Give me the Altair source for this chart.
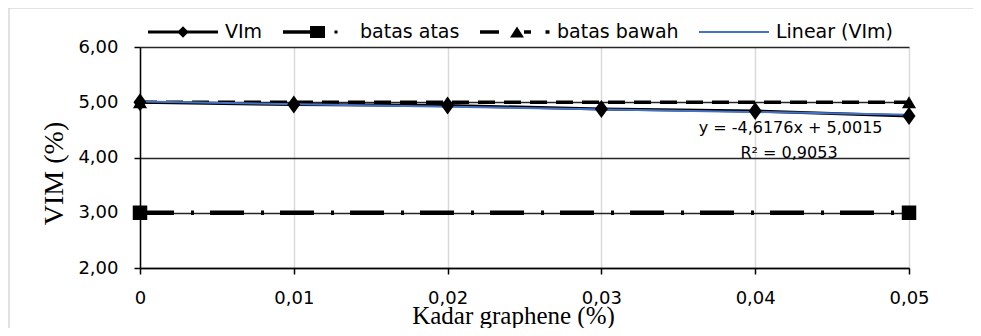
import altair as alt
import pandas as pd

# ---- data ----
kadar = [0, 0.01, 0.02, 0.03, 0.04, 0.05]
vim = [5.00, 4.96, 4.94, 4.88, 4.84, 4.75]
batas_x = [0, 0.05]
batas_atas = [3.0, 3.0]
batas_bawah = [5.0, 5.0]
series_names = ["VIm", "batas atas", "batas bawah", "Linear (VIm)"]
series_colors = ["#000000", "#000000", "#000000", "#4472C4"]
x_ticks = [0, 0.01, 0.02, 0.03, 0.04, 0.05]
y_ticks = [2, 3, 4, 5, 6]
eq_text = "y = -4,6176x + 5,0015"
r2_text = "R² = 0,9053"

vim_df = pd.DataFrame({"x": kadar, "y": vim})
atas_df = pd.DataFrame({"x": batas_x, "y": batas_atas})
bawah_df = pd.DataFrame({"x": batas_x, "y": batas_bawah})
legend_df = pd.DataFrame({"series": series_names})
one_row = pd.DataFrame({"k": [0]})

# legend symbols (line + marker) as custom SVG paths
legend_paths = [
    "M-3.5,-0.15H3.5V0.15H-3.5Z M0,-0.58L0.58,0L0,0.58L-0.58,0Z",
    "M-3.5,-0.17H-0.8V0.17H-3.5Z M-0.8,-0.6H0.7V0.6H-0.8Z M1.65,-0.15H1.95V0.15H1.65Z",
    "M-3.5,-0.17H-1.6V0.17H-3.5Z M0.2,-0.55L0.9,0.55H-0.5Z M0.9,-0.17H1.6V0.17H0.9Z M3.05,-0.18H3.45V0.18H3.05Z",
    "M-3.5,-0.1H3.5V0.1H-3.5Z",
]

W, H = 769, 221
label_expr_x = "datum.value == 0 ? '0' : replace(format(datum.value, '.2f'), '.', ',')"
label_expr_y = "replace(format(datum.value, '.2f'), '.', ',')"

x_scale = alt.Scale(domain=[0, 0.05], nice=False, zero=False)
y_scale = alt.Scale(domain=[2, 6], nice=False, zero=False)

x_axis = alt.Axis(
    values=x_ticks, labelExpr=label_expr_x, title="Kadar graphene (%)",
    grid=True, gridColor="#d9d9d9", gridWidth=1.5,
    domainColor="#000000", domainWidth=1.5, tickColor="#000000", tickWidth=1.5, tickSize=6,
    labelFont="DejaVu Sans", labelFontSize=18, labelColor="#000000", labelPadding=15,
    labelFlush=False,
    titleFont="Liberation Serif", titleFontSize=25, titleFontWeight="normal", titleColor="#000000",
    titleX=373, titleY=55, titleBaseline="alphabetic", titleAlign="center", titleAnchor="start",
)
y_axis = alt.Axis(
    values=y_ticks, labelExpr=label_expr_y, title="VIM (%)",
    grid=True, gridColor="#262626", gridWidth=1.3,
    domainColor="#000000", domainWidth=1.5, tickColor="#000000", tickWidth=1.5, tickSize=6,
    labelFont="DejaVu Sans", labelFontSize=18, labelColor="#000000", labelPadding=16,
    labelFlush=False,
    titleFont="Liberation Serif", titleFontSize=28, titleFontWeight="normal", titleColor="#000000",
    titleX=-86, titleY=126, titleBaseline="middle", titleAlign="center", titleAngle=270,
    titleAnchor="start",
)

X = alt.X("x:Q", scale=x_scale, axis=x_axis)
Y = alt.Y("y:Q", scale=y_scale, axis=y_axis)

frame_top = alt.Chart(one_row).mark_rule(color="#d9d9d9", strokeWidth=1.5).encode(
    x=alt.value(-132), x2=alt.value(841), y=alt.value(-39)
)
frame_left = alt.Chart(one_row).mark_rule(color="#d9d9d9", strokeWidth=1.5).encode(
    x=alt.value(-131), y=alt.value(-39), y2=alt.value(281)
)

atas_line = alt.Chart(atas_df).mark_line(
    color="#000000", strokeWidth=4.5, strokeDash=[34, 17, 3, 16], strokeCap="butt"
).encode(x=X, y=Y)
bawah_line = alt.Chart(bawah_df).mark_line(
    color="#000000", strokeWidth=3.5, strokeDash=[17, 9], strokeCap="butt"
).encode(x=X, y=Y)
vim_line = alt.Chart(vim_df).mark_line(color="#000000", strokeWidth=3).encode(x=X, y=Y)
trend = alt.Chart(vim_df).transform_regression("x", "y", extent=[0, 0.05]).mark_line(
    color="#4472C4", strokeWidth=2
).encode(x=X, y=Y)

vim_pts = alt.Chart(vim_df).mark_point(
    shape="M0,-1.8L1.3,0L0,1.8L-1.3,0Z", size=100, filled=True, color="#000000", opacity=1
).encode(x=X, y=Y)
atas_pts = alt.Chart(atas_df).mark_point(
    shape="square", size=210, filled=True, color="#000000", opacity=1
).encode(x=X, y=Y)
bawah_pts = alt.Chart(bawah_df).mark_point(
    shape="triangle-up", size=200, filled=True, color="#000000", opacity=1
).encode(x=X, y=Y)

leg = dict(title=None, orient="none", legendX=33, legendY=-25,
           direction="horizontal", columns=4, columnPadding=20,
           labelOffset=32, labelFont="DejaVu Sans", labelFontSize=19,
           labelColor="#000000", symbolStrokeWidth=0, symbolSize=400, padding=0)

legend_layer = alt.Chart(legend_df).transform_filter("false").mark_point(
    filled=True, size=400, opacity=1
).encode(
    x=alt.value(0), y=alt.value(0),
    shape=alt.Shape("series:N", scale=alt.Scale(domain=series_names, range=legend_paths),
                    legend=alt.Legend(**leg)),
    color=alt.Color("series:N", scale=alt.Scale(domain=series_names, range=series_colors),
                    legend=alt.Legend(**leg)),
)

eq = alt.Chart(one_row).mark_text(
    font="DejaVu Sans", fontSize=16, fontWeight="normal", color="#000000",
    align="center", baseline="middle"
).encode(x=alt.datum(0.0423, scale=x_scale), y=alt.datum(4.535, scale=y_scale),
         text=alt.value(eq_text))
r2 = alt.Chart(one_row).mark_text(
    font="DejaVu Sans", fontSize=16, fontWeight="normal", color="#000000",
    align="center", baseline="middle"
).encode(x=alt.datum(0.0422, scale=x_scale), y=alt.datum(4.085, scale=y_scale),
         text=alt.value(r2_text))

chart = alt.layer(
    frame_top, frame_left, atas_line, bawah_line, vim_line, trend,
    vim_pts, atas_pts, bawah_pts, legend_layer, eq, r2,
).properties(
    width=W, height=H,
    autosize=alt.AutoSizeParams(type="none"),
    padding={"left": 132, "top": 39, "right": 64, "bottom": 60},
).configure_view(stroke=None).configure(background="white")

chart.save("out.html", embed_options={"renderer": "svg", "actions": False})
